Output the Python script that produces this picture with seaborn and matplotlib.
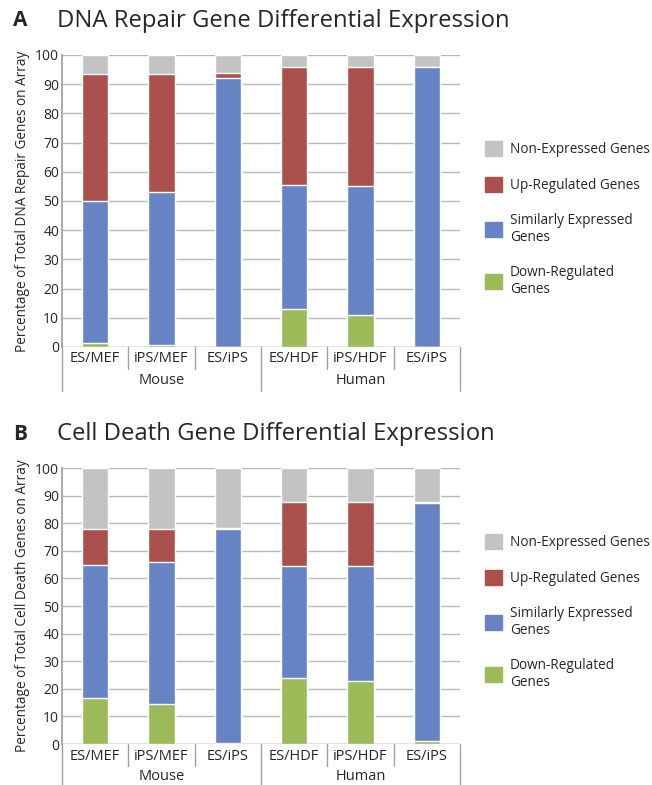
import matplotlib
matplotlib.use("Agg")
import matplotlib.pyplot as plt
import seaborn as sns
import pandas as pd
from matplotlib.patches import Patch
from matplotlib.transforms import blended_transform_factory

# data (percent of genes on the array)
comparisons = ["ES/MEF", "iPS/MEF", "ES/iPS", "ES/HDF", "iPS/HDF", "ES/iPS"]
groups = ["Mouse", "Human"]
series = ["Down-Regulated\nGenes", "Similarly Expressed\nGenes",
          "Up-Regulated Genes", "Non-Expressed Genes"]
colors = ["#9bbb59", "#6683c4", "#ab514d", "#c3c3c3"]

dna_down = [1.5, 0.7, 0, 13, 11, 0]
dna_similar = [48.5, 52.3, 92, 42.5, 44.3, 96]
dna_up = [43.5, 40.5, 1.7, 40.5, 40.7, 0]
dna_non = [6.5, 6.5, 6.3, 4, 4, 4]

death_down = [16.5, 14.5, 0.3, 24, 23, 1]
death_similar = [48.5, 51.5, 77.7, 40.5, 41.5, 86.5]
death_up = [13, 12, 0.2, 23.2, 23.2, 0.2]
death_non = [22, 22, 21.8, 12.3, 12.3, 12.3]

sns.set_theme(style="white")
plt.rcParams['font.family'] = ['Open Sans', 'DejaVu Sans']

fig = plt.figure(figsize=(6.52, 7.85), dpi=100)


def draw_panel(rect, letter, title, ylabel, layers, leg_y):
    ax = fig.add_axes(rect)
    ids = [f"c{i}" for i in range(len(comparisons))]
    # stacked bars: draw cumulative totals from the top layer down
    cum = [0] * len(comparisons)
    tops = []
    for vals in layers:
        cum = [a + b for a, b in zip(cum, vals)]
        tops.append(cum)
    for top, col in reversed(list(zip(tops, colors))):
        df = pd.DataFrame({"cmp": ids, "pct": top})
        sns.barplot(data=df, x="cmp", y="pct", order=ids, color=col,
                    width=0.4, saturation=1, ax=ax, zorder=3)
    ax.set_xlim(-0.5, len(comparisons) - 0.5)
    ax.set_ylim(0, 100)
    ax.set_yticks(range(0, 101, 10))
    ax.tick_params(axis="y", labelsize=10, pad=2, length=0)
    ax.set_xticks([])
    ax.set_xlabel("")
    ax.set_ylabel(ylabel, fontsize=9.8, labelpad=4)
    ax.yaxis.grid(True, color="#b8b8b8", linewidth=1, zorder=0)
    for s in ["top", "right", "bottom"]:
        ax.spines[s].set_visible(False)
    ax.spines["left"].set_color("#a0a0a0")
    ax.axhline(0, color="#a0a0a0", linewidth=1, zorder=4)

    # two-level category axis
    tr = blended_transform_factory(ax.transData, ax.transAxes)
    h = rect[3] * 7.85 * 100
    row1 = -22 / h
    row2 = -44 / h
    for i, name in enumerate(comparisons):
        ax.text(i, -12 / h, name, transform=tr, ha="center", va="center",
                fontsize=10.5)
    for k, g in enumerate(groups):
        ax.text(3 * k + 1, -33 / h, g, transform=tr, ha="center",
                va="center", fontsize=10.5)
    for b in range(len(comparisons) + 1):
        low = row2 if b % 3 == 0 else row1
        ax.plot([b - 0.5, b - 0.5], [0, low], transform=tr, color="#a0a0a0",
                linewidth=1, clip_on=False)

    top_px = (1 - rect[1] - rect[3]) * 785
    fig.text(13 / 652, 1 - (top_px - 34) / 785, letter, fontsize=15,
             fontweight="bold", va="center")
    fig.text(57 / 652, 1 - (top_px - 34) / 785, title, fontsize=17.2,
             va="center")

    handles = [Patch(color=c, label=l) for c, l in zip(colors, series)]
    fig.legend(handles=handles[::-1], loc="center left",
               bbox_to_anchor=(0.733, leg_y), frameon=False, fontsize=9.8,
               handlelength=1.3, handleheight=1.3, labelspacing=1.45,
               borderpad=0, handletextpad=0.55)
    return ax


draw_panel([62 / 652, 1 - 347 / 785, 398 / 652, 292 / 785], "A",
           "DNA Repair Gene Differential Expression",
           "Percentage of Total DNA Repair Genes on Array",
           [dna_down, dna_similar, dna_up, dna_non], 1 - 219 / 785)
draw_panel([62 / 652, 1 - 744 / 785, 398 / 652, 276 / 785], "B",
           "Cell Death Gene Differential Expression",
           "Percentage of Total Cell Death Genes on Array",
           [death_down, death_similar, death_up, death_non], 1 - 612 / 785)

fig.savefig("out.png", dpi=100)
